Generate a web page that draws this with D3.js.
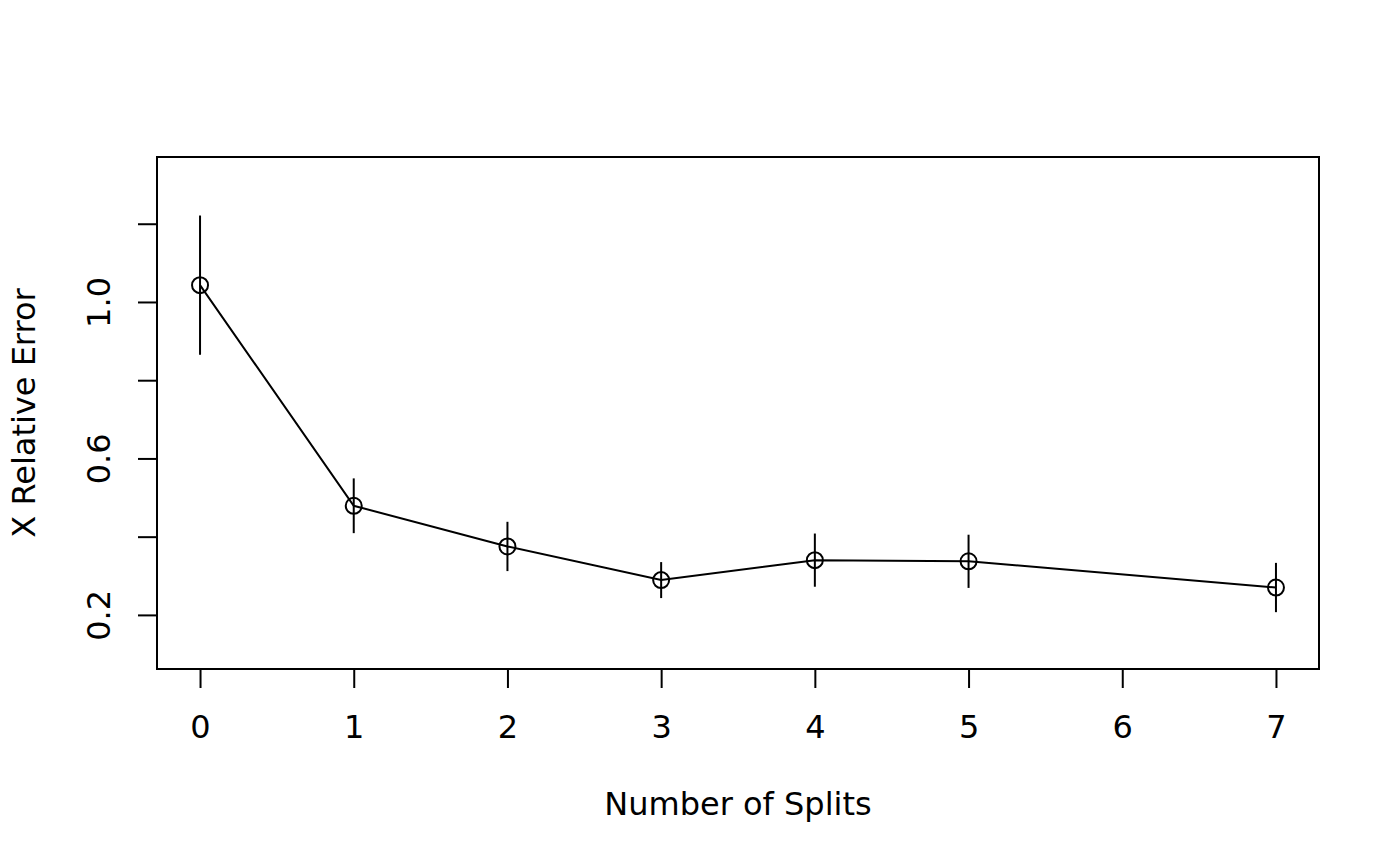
<!DOCTYPE html>
<html>
<head>
<meta charset="utf-8">
<script src="https://cdn.jsdelivr.net/npm/d3@7"></script>
<style>
  body { margin: 0; background: #fff; }
  svg text { font-family: "DejaVu Sans", sans-serif; fill: #000; }
</style>
</head>
<body>
<div id="graph"></div>
<script>
// cross-validated relative error per tree size
const splits = [0, 1, 2, 3, 4, 5, 7];
const xerror = [1.043, 0.479, 0.375, 0.289, 0.340, 0.337, 0.270];
const xstd   = [0.178, 0.070, 0.063, 0.046, 0.068, 0.068, 0.063];
const xTicks = [0, 1, 2, 3, 4, 5, 6, 7];
const yTicks = [0.2, 0.4, 0.6, 0.8, 1.0, 1.2];
const yLabels = ["0.2", "", "0.6", "", "1.0", ""];

const w = 1400, h = 866;
const padL = 157, padR = 1319, padT = 157, padB = 669;
const fs = '32px';

const svg = d3.select('#graph').append('svg')
    .attr('width', w).attr('height', h);

const xScale = d3.scaleLinear().domain([-0.28, 7.28]).range([padL, padR]);
const yScale = d3.scaleLinear().domain([0.0617, 1.3706]).range([padB, padT]);

// box
svg.append('rect')
    .attr('x', padL).attr('y', padT)
    .attr('width', padR - padL).attr('height', padB - padT)
    .attr('fill', 'none').attr('stroke', '#000').attr('stroke-width', 2);

const xAxis = d3.axisBottom(xScale).tickValues(xTicks).tickSize(19)
    .tickFormat(d3.format('d'));
const yAxis = d3.axisLeft(yScale).tickValues(yTicks).tickSize(19)
    .tickFormat((d, i) => yLabels[i]);

const gx = svg.append('g')
    .attr('transform', 'translate(0,' + padB + ')')
    .call(xAxis);
const gy = svg.append('g')
    .attr('transform', 'translate(' + padL + ',0)')
    .call(yAxis);

[gx, gy].forEach(g => {
    g.select('.domain').remove();
    g.selectAll('line').attr('stroke', '#000').attr('stroke-width', 2);
    g.selectAll('text').style('font-size', fs);
});
gx.selectAll('.tick text').attr('y', 69).attr('dy', 0);
gy.selectAll('.tick text')
    .attr('x', 0).attr('dy', 0)
    .attr('text-anchor', 'middle')
    .attr('transform', 'translate(-47,0) rotate(-90)');

// error bars
svg.selectAll('.err')
    .data(splits)
    .enter().append('line')
    .attr('class', 'err')
    .attr('x1', d => xScale(d)).attr('x2', d => xScale(d))
    .attr('y1', (d, i) => yScale(xerror[i] + xstd[i]))
    .attr('y2', (d, i) => yScale(xerror[i] - xstd[i]))
    .attr('stroke', '#000').attr('stroke-width', 2);

// line
svg.append('path')
    .datum(splits)
    .attr('d', d3.line().x(d => xScale(d)).y((d, i) => yScale(xerror[i])))
    .attr('fill', 'none').attr('stroke', '#000').attr('stroke-width', 2);

// points
svg.selectAll('.dot')
    .data(splits)
    .enter().append('circle')
    .attr('class', 'dot')
    .attr('cx', d => xScale(d))
    .attr('cy', (d, i) => yScale(xerror[i]))
    .attr('r', 8)
    .attr('fill', 'none').attr('stroke', '#000').attr('stroke-width', 2);

// titles
svg.append('text')
    .attr('x', (padL + padR) / 2).attr('y', 815)
    .attr('text-anchor', 'middle')
    .style('font-size', fs)
    .text('Number of Splits');

svg.append('text')
    .attr('transform', 'translate(35,' + ((padT + padB) / 2) + ') rotate(-90)')
    .attr('text-anchor', 'middle')
    .style('font-size', fs)
    .text('X Relative Error');
</script>
</body>
</html>
